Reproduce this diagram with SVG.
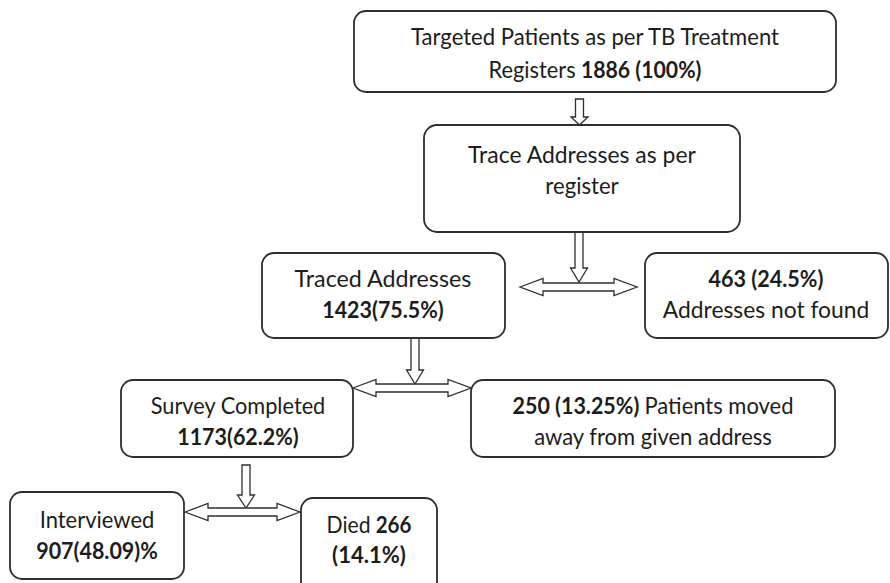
<svg xmlns="http://www.w3.org/2000/svg" width="890" height="583" viewBox="0 0 890 583">
  <style>
    .box { fill: #ffffff; stroke: #2e2e2e; stroke-width: 1.8; }
    .arrow { fill: #ffffff; stroke: #2e2e2e; stroke-width: 1.3; stroke-linejoin: miter; }
    text { font-family: Lato, "Open Sans", "Liberation Sans", sans-serif; font-size: 23.5px; fill: #1c1c1c; }
    .b { font-weight: bold; }
    .c { text-anchor: middle; }
  </style>
  <rect width="890" height="583" fill="#ffffff"/>

  <!-- connectors: hollow block arrows -->
  <g id="connectors">
    <path class="arrow" d="M575.5,99 L583.5,99 L583.5,117 L588,117 L579.5,125 L571,117 L575.5,117 Z"/>
    <path class="arrow" d="M575,232 L583,232 L583,268 L587.5,268 L579,282 L570.5,268 L575,268 Z"/>
    <path class="arrow" d="M520,287 L543,278.5 L543,283 L614,283 L614,278.5 L637,287 L614,295.5 L614,291 L543,291 L543,295.5 Z"/>
    <path class="arrow" d="M411,338 L419,338 L419,370 L423.5,370 L415,384 L406.5,370 L411,370 Z"/>
    <path class="arrow" d="M353,388 L376,379.5 L376,384 L448,384 L448,379.5 L471,388 L448,396.5 L448,392 L376,392 L376,396.5 Z"/>
    <path class="arrow" d="M242,465 L250,465 L250,495 L254.5,495 L246,508 L237.5,495 L242,495 Z"/>
    <path class="arrow" d="M185,512 L208,503.5 L208,508 L277,508 L277,503.5 L300,512 L277,520.5 L277,516 L208,516 L208,520.5 Z"/>
  </g>

  <g id="n-targeted">
    <rect class="box" x="354" y="11" width="482" height="81" rx="12"/>
    <text class="c" x="595" y="45" textLength="368" lengthAdjust="spacingAndGlyphs">Targeted Patients as per TB Treatment</text>
    <text x="488.5" y="78" textLength="87.1" lengthAdjust="spacingAndGlyphs">Registers</text>
    <text class="b" x="580.9" y="78" textLength="120.5" lengthAdjust="spacingAndGlyphs">1886 (100%)</text>
  </g>

  <g id="n-trace">
    <rect class="box" x="424" y="125" width="316" height="107" rx="13"/>
    <text class="c" x="582" y="163" textLength="227.8" lengthAdjust="spacingAndGlyphs">Trace Addresses as per</text>
    <text class="c" x="582" y="194" textLength="73.3" lengthAdjust="spacingAndGlyphs">register</text>
  </g>

  <g id="n-traced">
    <rect class="box" x="262" y="253" width="243" height="85" rx="12"/>
    <text class="c" x="383" y="287" textLength="176.8" lengthAdjust="spacingAndGlyphs">Traced Addresses</text>
    <text class="c b" x="383" y="318" textLength="121.5" lengthAdjust="spacingAndGlyphs">1423(75.5%)</text>
  </g>

  <g id="n-notfound">
    <rect class="box" x="645" y="253" width="243" height="85" rx="12"/>
    <text class="c b" x="766" y="287" textLength="114.9" lengthAdjust="spacingAndGlyphs">463 (24.5%)</text>
    <text class="c" x="766" y="318" textLength="206.4" lengthAdjust="spacingAndGlyphs">Addresses not found</text>
  </g>

  <g id="n-survey">
    <rect class="box" x="121" y="380" width="232" height="77" rx="12"/>
    <text class="c" x="238" y="414" textLength="174.6" lengthAdjust="spacingAndGlyphs">Survey Completed</text>
    <text class="c b" x="238" y="445" textLength="121.5" lengthAdjust="spacingAndGlyphs">1173(62.2%)</text>
  </g>

  <g id="n-moved">
    <rect class="box" x="471" y="380" width="364" height="77" rx="12"/>
    <text class="b" x="512.5" y="414" textLength="126.8" lengthAdjust="spacingAndGlyphs">250 (13.25%)</text>
    <text x="644.5" y="414" textLength="149" lengthAdjust="spacingAndGlyphs">Patients moved</text>
    <text class="c" x="653" y="445" textLength="237.7" lengthAdjust="spacingAndGlyphs">away from given address</text>
  </g>

  <g id="n-interviewed">
    <rect class="box" x="10" y="492" width="174" height="87" rx="12"/>
    <text class="c" x="97" y="528" textLength="114.6" lengthAdjust="spacingAndGlyphs">Interviewed</text>
    <text class="c b" x="97" y="559" textLength="121.5" lengthAdjust="spacingAndGlyphs">907(48.09)%</text>
  </g>

  <g id="n-died">
    <rect class="box" x="301" y="498" width="136" height="100" rx="12"/>
    <text x="326.5" y="533" textLength="44" lengthAdjust="spacingAndGlyphs">Died</text>
    <text class="b" x="375.7" y="533" textLength="35.7" lengthAdjust="spacingAndGlyphs">266</text>
    <text class="c b" x="369" y="563" textLength="73.8" lengthAdjust="spacingAndGlyphs">(14.1%)</text>
  </g>
</svg>
